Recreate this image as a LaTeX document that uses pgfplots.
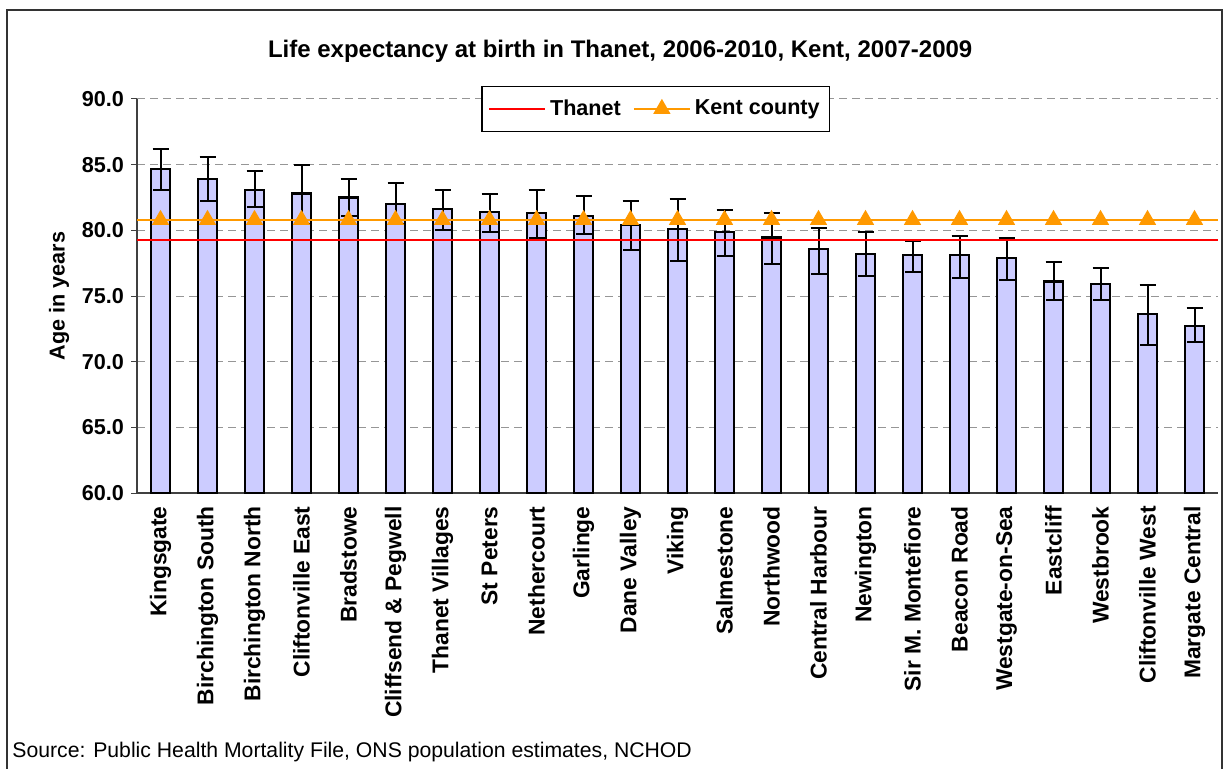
\documentclass[border=0pt]{standalone}
\usepackage{pgfplots}
\pgfplotsset{compat=1.18}
\usepackage{fontspec}
\setmainfont{Liberation Sans}
\definecolor{barfill}{RGB}{204,204,255}
\definecolor{kent}{RGB}{255,153,0}
\definecolor{thanet}{RGB}{255,0,0}
\definecolor{gridc}{RGB}{150,150,150}
\begin{document}
\begin{tikzpicture}
\path[use as bounding box] (0,0) rectangle (612pt,-384.5pt);
\draw[line width=0.6pt, black!80] (3.5pt,-395pt) -- (3.5pt,-5pt) -- (611pt,-5pt) -- (611pt,-395pt);
\begin{axis}[
  at={(68.5pt,-246.5pt)}, anchor=south west,
  scale only axis, width=540.5pt, height=197pt,
  xmin=-0.5, xmax=22.5, ymin=60, ymax=90,
  axis x line*=bottom, axis y line*=left,
  axis line style={black!75, line width=0.6pt},
  ytick={60,65,...,90},
  yticklabel={\pgfmathprintnumber[fixed,fixed zerofill,precision=1]{\tick}},
  /pgf/number format/assume math mode=true,
  ticklabel style={font=\fontsize{10.8}{12}\selectfont\bfseries},
  y tick style={black!75, line width=0.5pt},
  ytick align=outside, major tick length=3pt,
  ymajorgrids, grid style={gridc, dash pattern=on 4pt off 2.5pt, line width=0.5pt},
  xtick={0,...,22},
  xticklabels={Kingsgate,Birchington South,Birchington North,Cliftonville East,Bradstowe,Cliffsend \& Pegwell,Thanet Villages,St Peters,Nethercourt,Garlinge,Dane Valley,Viking,Salmestone,Northwood,Central Harbour,Newington,Sir M. Montefiore,Beacon Road,Westgate-on-Sea,Eastcliff,Westbrook,Cliftonville West,Margate Central},
  x tick style={draw=none},
  minor xtick={-0.5,0.5,...,22.5},
  minor x tick style={black!75, line width=0.5pt},
  xtick align=outside, minor tick length=3pt,
  xticklabel style={rotate=90, anchor=east, inner sep=0pt, xshift=-3.5pt, font=\fontsize{11.4}{12}\selectfont\bfseries},
  title={Life expectancy at birth in Thanet, 2006-2010, Kent, 2007-2009},
  title style={at={(axis description cs:0.447,1.091)}, anchor=center, font=\fontsize{12}{14}\selectfont\bfseries},
  ylabel={Age in years},
  every axis y label/.style={at={(axis description cs:-0.072,0.5)}, rotate=90, anchor=center, font=\fontsize{10.8}{12}\selectfont\bfseries},
  legend style={at={(axis description cs:0.48,0.975)}, anchor=center, draw=black, line width=0.6pt, font=\fontsize{10.8}{12}\selectfont\bfseries, legend columns=2, inner xsep=3pt, inner ysep=4.5pt, /tikz/every even column/.append style={column sep=4pt}},
  legend image code/.code={\draw[#1] (0pt,0pt) -- (28pt,0pt); \draw[#1, mark indices={1}] plot coordinates {(14pt,0pt)};},
  clip=false,
]
\addplot[ybar, bar width=9.2pt, fill=barfill, draw=black, line width=1.1pt, forget plot,
  error bars/.cd, y dir=both, y explicit,
  error bar style={black, line width=1pt},
  error mark options={black, line width=1pt, mark size=4pt, rotate=90}]
coordinates {
(0,84.7) += (0,1.5) -= (0,1.6)
(1,83.9) += (0,1.7) -= (0,1.7)
(2,83.1) += (0,1.4) -= (0,1.3)
(3,82.8) += (0,2.2) -= (0,2.3)
(4,82.5) += (0,1.4) -= (0,1.4)
(5,82.0) += (0,1.6) -= (0,1.5)
(6,81.6) += (0,1.5) -= (0,1.55)
(7,81.4) += (0,1.4) -= (0,1.5)
(8,81.3) += (0,1.8) -= (0,1.9)
(9,81.1) += (0,1.5) -= (0,1.4)
(10,80.4) += (0,1.8) -= (0,1.9)
(11,80.1) += (0,2.3) -= (0,2.4)
(12,79.9) += (0,1.65) -= (0,1.85)
(13,79.45) += (0,1.85) -= (0,2.05)
(14,78.6) += (0,1.6) -= (0,1.95)
(15,78.2) += (0,1.7) -= (0,1.7)
(16,78.1) += (0,1.1) -= (0,1.3)
(17,78.1) += (0,1.5) -= (0,1.7)
(18,77.9) += (0,1.5) -= (0,1.7)
(19,76.1) += (0,1.5) -= (0,1.4)
(20,75.9) += (0,1.2) -= (0,1.2)
(21,73.6) += (0,2.2) -= (0,2.3)
(22,72.7) += (0,1.4) -= (0,1.2)
};
\addplot[thanet, line width=1pt, mark=none] coordinates {(-0.5,79.3) (22.5,79.3)};
\addlegendentry{Thanet}
\addplot[kent, line width=1pt, mark=triangle*, mark size=4pt, mark options={kent, solid},
  mark indices={2,3,4,5,6,7,8,9,10,11,12,13,14,15,16,17,18,19,20,21,22,23,24}]
coordinates {(-0.5,80.8) (0,80.8) (1,80.8) (2,80.8) (3,80.8) (4,80.8) (5,80.8) (6,80.8) (7,80.8) (8,80.8) (9,80.8) (10,80.8) (11,80.8) (12,80.8) (13,80.8) (14,80.8) (15,80.8) (16,80.8) (17,80.8) (18,80.8) (19,80.8) (20,80.8) (21,80.8) (22,80.8) (22.5,80.8)};
\addlegendentry{Kent county}
\end{axis}
\node[anchor=west, font=\fontsize{10.6}{12}\selectfont, inner sep=0pt] at (6pt,-376pt) {Source: Public Health Mortality File, ONS population estimates, NCHOD};
\end{tikzpicture}
\end{document}
